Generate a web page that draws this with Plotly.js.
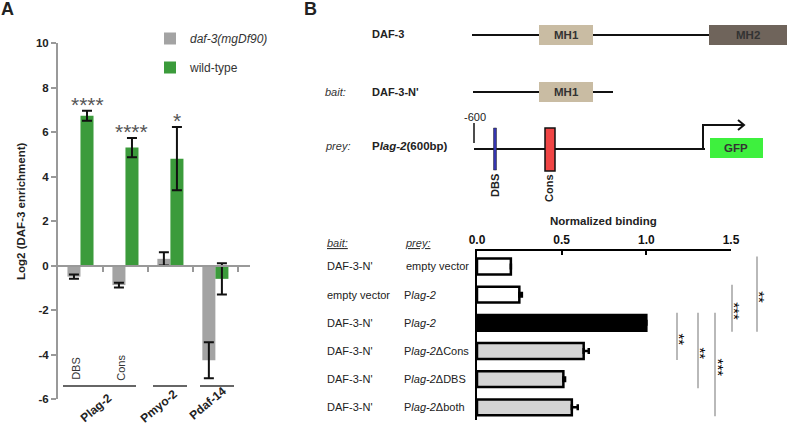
<!DOCTYPE html>
<html>
<head>
<meta charset="utf-8">
<script src="https://cdn.plot.ly/plotly-3.0.1.min.js"></script>
<style>
  html, body { margin: 0; padding: 0; background: #fff; }
  #chart { width: 788px; height: 427px; }
</style>
</head>
<body>
<div id="chart"></div>
<script>
const W = 788;
const H = 427;
const FONT = 'Arial, "Liberation Sans", sans-serif';

// panel A: ChIP enrichment
const groupsA = ['Plag-2 DBS', 'Plag-2 Cons', 'Pmyo-2', 'Pdaf-14'];
const mutValues = [-0.5, -0.88, 0.3, -4.26];
const mutErrors = [0.09, 0.11, 0.3, 0.81];
const wtValues = [6.73, 5.3, 4.8, -0.6];
const wtErrors = [0.22, 0.43, 1.42, 0.7];
const wtStars = ['****', '****', '*', ''];
const siteLabels = ['DBS', 'Cons'];
const promoterLabels = ['Plag-2', 'Pmyo-2', 'Pdaf-14'];
const yTicksA = [-6, -4, -2, 0, 2, 4, 6, 8, 10];

// panel B: yeast one-hybrid binding
const baitNames = ["DAF-3-N'", 'empty vector', "DAF-3-N'", "DAF-3-N'", "DAF-3-N'", "DAF-3-N'"];
const preyNames = ['empty vector', 'P<i>lag-2</i>', 'P<i>lag-2</i>', 'P<i>lag-2</i>ΔCons', 'P<i>lag-2</i>ΔDBS', 'P<i>lag-2</i>Δboth'];
const binding = [0.2, 0.25, 1.0, 0.63, 0.51, 0.56];
const bindingErr = [0, 0.015, 0, 0.03, 0.01, 0.035];
const bindingTicks = [0, 0.5, 1.0, 1.5];
const sigPairs = [[0, 2, '**'], [1, 2, '***'], [2, 3, '**'], [2, 4, '**'], [2, 5, '***']];

const px = (x) => x / W;
const py = (y) => 1 - y / H;

const aDomX = [px(58), px(250)];
const aDomY = [py(399), py(43)];
const aRangeY = [-6, 10];
const zeroPos = aDomY[0] + (0 - aRangeY[0]) / (aRangeY[1] - aRangeY[0]) * (aDomY[1] - aDomY[0]);

const bTop = 251, bBottom = 420;
const bRangeY = [5.45, -0.55];
const rowPx = (r) => bTop + (r - bRangeY[1]) / (bRangeY[0] - bRangeY[1]) * (bBottom - bTop);

function txt(x, y, text, o = {}) {
  return {
    xref: o.xref || 'paper', yref: o.yref || 'paper',
    x: o.xref ? x : px(x), y: o.yref ? y : py(y),
    text, showarrow: false,
    xanchor: o.anchor || 'center', yanchor: 'middle',
    textangle: o.angle || 0,
    font: { family: FONT, size: o.size || 11, color: o.color || '#222', weight: o.bold ? 'bold' : 'normal' },
  };
}
function line(x0, y0, x1, y1, color = '#111', width = 2) {
  return { type: 'line', xref: 'paper', yref: 'paper', x0: px(x0), y0: py(y0), x1: px(x1), y1: py(y1), line: { color, width } };
}
function rect(x0, y0, x1, y1, fill, lineColor = 'rgba(0,0,0,0)', lineWidth = 0) {
  return { type: 'rect', xref: 'paper', yref: 'paper', x0: px(x0), y0: py(y0), x1: px(x1), y1: py(y1), fillcolor: fill, line: { color: lineColor, width: lineWidth } };
}
function path(points, color = '#111', width = 2) {
  const d = points.map(([x, y], i) => `${i ? 'L' : 'M'}${px(x)},${py(y)}`).join(' ');
  return { type: 'path', xref: 'paper', yref: 'paper', path: d, line: { color, width } };
}

const idx = groupsA.map((_, i) => i);
const rows = binding.map((_, i) => i);

const traces = [
  {
    type: 'bar', name: '<i>daf-3(mgDf90)</i>', legendgroup: 'mut',
    x: idx, y: mutValues, width: 0.29, offset: -0.29,
    marker: { color: '#a3a3a3' },
    error_y: { type: 'data', array: mutErrors, color: '#111', thickness: 2, width: 5 },
    xaxis: 'x', yaxis: 'y',
  },
  {
    type: 'bar', name: 'wild-type', legendgroup: 'wt',
    x: idx, y: wtValues, width: 0.29, offset: 0,
    marker: { color: '#3b9b3b' },
    error_y: { type: 'data', array: wtErrors, color: '#111', thickness: 2, width: 5 },
    xaxis: 'x', yaxis: 'y',
  },
  {
    type: 'bar', orientation: 'h', showlegend: false,
    x: binding, y: rows, width: 0.56,
    marker: { color: ['#ffffff', '#ffffff', '#000000', '#d4d4d4', '#d4d4d4', '#d4d4d4'], line: { color: '#000', width: 2.5 } },
    error_x: { type: 'data', symmetric: false, array: bindingErr, arrayminus: binding.map(() => 0), color: '#000', thickness: 2.5, width: 3 },
    xaxis: 'x2', yaxis: 'y2',
  },
];

const annotations = [
  txt(8, 9, 'A', { size: 18, bold: true }),
  txt(310, 9, 'B', { size: 18, bold: true }),
  txt(21, 211, 'Log2 (DAF-3 enrichment)', { size: 11.5, bold: true, angle: -90 }),
];

// stars over wild-type bars
wtStars.forEach((s, i) => {
  if (!s) return;
  annotations.push(txt(i + 0.145, wtValues[i] + wtErrors[i] + 0.3, s, { xref: 'x', yref: 'y', size: 21, color: '#555' }));
});
siteLabels.forEach((s, i) => {
  annotations.push(txt(i - 0.1, -4.6, s, { xref: 'x', yref: 'y', size: 11, color: '#333', angle: -90 }));
});

const promoterPos = [[96, 408], [159, 406], [208, 403]];
promoterLabels.forEach((s, i) => {
  annotations.push(txt(promoterPos[i][0], promoterPos[i][1], s, { size: 12, bold: true, angle: -40 }));
});

// panel B diagram labels
annotations.push(
  txt(370, 34, 'DAF-3', { bold: true, anchor: 'left' }),
  txt(323, 92, '<i>bait:</i>', { anchor: 'left', color: '#333' }),
  txt(370, 92, "DAF-3-N'", { bold: true, anchor: 'left' }),
  txt(323, 146, '<i>prey:</i>', { anchor: 'left', color: '#333' }),
  txt(370, 146, 'P<i>lag-2</i>(600bp)', { size: 11.5, bold: true, anchor: 'left' }),
  txt(566, 35, 'MH1', { size: 11.5, bold: true, color: '#333' }),
  txt(566, 92, 'MH1', { size: 11.5, bold: true, color: '#333' }),
  txt(748, 35, 'MH2', { size: 11.5, bold: true, color: '#333' }),
  txt(736, 148, 'GFP', { size: 11.5, bold: true, color: '#333' }),
  txt(475, 117, '-600', { size: 11 }),
  txt(495, 186, 'DBS', { size: 11, bold: true, angle: -90 }),
  txt(549, 188, 'Cons', { size: 11, bold: true, angle: -90 }),
  txt(603, 221, 'Normalized binding', { size: 11.5, bold: true }),
  txt(325, 243, '<i><u>bait:</u></i>', { anchor: 'left', color: '#333' }),
  txt(403, 243, '<i><u>prey:</u></i>', { anchor: 'left', color: '#333' }),
);

baitNames.forEach((s, i) => annotations.push(txt(325, rowPx(i), s, { anchor: 'left' })));
preyNames.forEach((s, i) => annotations.push(txt(i === 0 ? 404 : 402, rowPx(i), s, { anchor: 'left' })));

const sigX = [757, 732, 677, 698, 715];
const shapes = [
  // panel A group underlines
  line(63, 386, 136, 386, '#333', 1.5),
  line(153, 386, 187, 386, '#333', 1.5),
  line(200, 386, 234, 386, '#333', 1.5),
  // DAF-3
  line(472, 35, 709, 35),
  rect(539, 25, 593, 45, '#c9bca3'),
  rect(709, 25, 787, 45, '#6f645b'),
  // bait
  line(473, 92, 613, 92),
  rect(539, 82, 593, 102, '#c9bca3'),
  // prey
  line(474, 149, 705, 149),
  line(474, 123, 474, 143, '#111', 1.5),
  rect(493.5, 128, 496.5, 170, '#3535b0', '#222', 0.5),
  rect(545, 128, 555, 171, '#f04545', '#111', 1.5),
  path([[703, 149], [703, 125], [744, 125]]),
  path([[738, 120], [744, 125], [738, 130]]),
  rect(710, 138, 763, 158, '#3ef03e'),
];
sigPairs.forEach(([a, b, s], i) => {
  const x = sigX[i];
  const y0 = rowPx(a) - 10, y1 = rowPx(b) + 9;
  shapes.push(line(x, y0, x, y1, '#8a8a8a', 1.2));
  annotations.push(txt(x + 3, (y0 + y1) / 2 + 3, s, { size: 15, color: '#000', angle: 90 }));
});

const layout = {
  width: W, height: H,
  margin: { l: 0, r: 0, t: 0, b: 0 },
  paper_bgcolor: '#fff', plot_bgcolor: 'rgba(0,0,0,0)',
  font: { family: FONT, size: 12, color: '#222' },
  showlegend: true,
  legend: {
    x: px(150), y: py(24), xanchor: 'left', yanchor: 'top',
    font: { family: FONT, size: 12, color: '#333' },
    tracegroupgap: 10, bgcolor: 'rgba(0,0,0,0)',
  },
  xaxis: {
    domain: aDomX, range: [-0.5, 3.77], anchor: 'free', position: zeroPos,
    showline: true, linecolor: '#999', linewidth: 2,
    ticks: 'outside', tickvals: [0.5, 1.5, 2.5, 3.5], ticklen: 5, tickwidth: 2, tickcolor: '#999',
    showticklabels: false, showgrid: false, zeroline: false, fixedrange: true,
  },
  yaxis: {
    domain: aDomY, range: aRangeY, anchor: 'x',
    showline: true, linecolor: '#999', linewidth: 2,
    ticks: 'outside', tickvals: yTicksA, ticktext: yTicksA.map(String), ticklen: 5, tickwidth: 2, tickcolor: '#999',
    tickfont: { family: FONT, size: 11.5, weight: 'bold', color: '#222' },
    showgrid: false, zeroline: false, fixedrange: true,
  },
  xaxis2: {
    domain: [px(477), px(731)], range: [0, 1.5], side: 'top', anchor: 'y2',
    showline: true, linecolor: '#000', linewidth: 2,
    ticks: 'inside', tickvals: bindingTicks, ticktext: bindingTicks.map((v) => v.toFixed(1)), ticklen: 4, tickwidth: 2, tickcolor: '#000',
    tickfont: { family: FONT, size: 12, weight: 'bold', color: '#111' },
    showgrid: false, zeroline: false, fixedrange: true,
  },
  yaxis2: {
    domain: [py(bBottom), py(bTop)], range: bRangeY, anchor: 'x2',
    showline: true, linecolor: '#000', linewidth: 2.5,
    showticklabels: false, ticks: '', showgrid: false, zeroline: false, fixedrange: true,
  },
  shapes,
  annotations,
};

Plotly.newPlot('chart', traces, layout, { displayModeBar: false, staticPlot: true });
</script>
</body>
</html>
